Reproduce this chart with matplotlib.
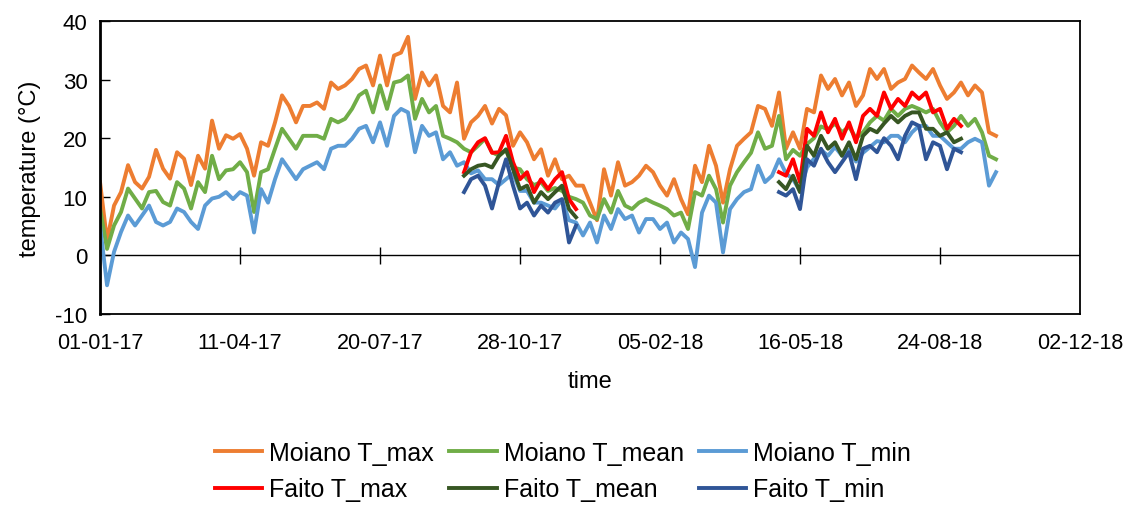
"""Daily temperature at Moiano and Faito, Jan 2017 - Oct 2018."""
import numpy as np
import pandas as pd
import matplotlib
matplotlib.use("Agg")
import matplotlib.pyplot as plt
import matplotlib.dates as mdates

plt.rcParams["font.family"] = ["Liberation Sans", "DejaVu Sans"]
plt.rcParams["font.size"] = 16.5
plt.rcParams["axes.unicode_minus"] = False

# values every 5 days
moiano_dates = pd.date_range("2017-01-01", periods=129, freq="5D")
faito_dates_1 = pd.date_range("2017-09-18", periods=17, freq="5D")
faito_dates_2 = pd.date_range("2018-05-01", periods=27, freq="5D")

moiano_tmax = [
    12.5, 2.5, 8.5, 10.8, 15.4, 12.5, 11.4, 13.4, 18, 14.8,
    13.1, 17.6, 16.5, 12, 17, 14.8, 23, 18.2, 20.5, 19.9,
    20.7, 18.2, 13.6, 19.3, 18.7, 22.7, 27.3, 25.5, 22.7, 25.5,
    25.5, 26.1, 25, 29.5, 28.4, 29, 30.1, 31.8, 32.4, 29,
    34.1, 29, 34.1, 34.6, 37.3, 26.7, 31.2, 29, 30.7, 25.5,
    24.4, 29.5, 19.9, 22.7, 23.8, 25.5, 22.5, 25, 23.9, 18.7,
    21, 19.3, 16.4, 18.1, 13.6, 16.4, 13, 13.6, 11.9, 11.9,
    9, 6, 14.7, 10.2, 15.9, 11.9, 12.5, 13.6, 15.3, 14.2,
    11.9, 10.2, 13, 9.6, 7, 15.3, 12.5, 18.7, 15.3, 9,
    14.7, 18.7, 19.9, 21, 25.5, 25, 22.1, 27.8, 18.2, 21,
    18.2, 25, 24.4, 30.7, 28.4, 30.1, 27.3, 29.5, 25.5, 27.3,
    31.8, 30.1, 31.8, 28.4, 29.5, 30.1, 32.4, 31.2, 30.1, 31.8,
    29, 26.7, 27.8, 29.5, 27.3, 29, 27.8, 21, 20.4,
]
moiano_tmean = [
    8, 1.1, 5.1, 7.4, 11.4, 9.7, 8, 10.8, 11, 9.1,
    8.5, 12.5, 11.4, 8, 12.5, 10.8, 17, 13, 14.5, 14.7,
    15.9, 14.2, 7.4, 14.2, 14.7, 18.2, 21.6, 19.9, 18.2, 20.4,
    20.4, 20.4, 19.9, 23.3, 22.7, 23.3, 25, 27.3, 28.1, 24.4,
    29, 25, 29.5, 29.8, 30.7, 23.3, 26.7, 24.4, 25.5, 20.4,
    19.9, 19.3, 18.2, 17.6, 18.7, 19.9, 17.6, 17, 18, 15,
    14.7, 13, 12, 12.5, 11, 11.5, 11, 10, 9.6, 9,
    6.8, 6.2, 9.6, 7.3, 11, 8.5, 7.9, 9, 9.6, 9,
    8.5, 7.9, 6.8, 7.3, 4.5, 10.8, 10.2, 13.6, 11.3, 5.6,
    11.9, 14.2, 15.9, 17.5, 21, 18.2, 18.7, 23.8, 16.4, 18,
    17, 19, 20, 22, 21.5, 22.5, 21, 22, 20, 21,
    22.7, 23.8, 23, 25, 23.8, 25, 25.5, 25, 24.4, 25,
    22.7, 21, 22.1, 23.8, 22.1, 23.3, 21, 17, 16.4,
]
moiano_tmin = [
    5.1, -5.1, 0.6, 4, 6.8, 5.1, 6.8, 8.5, 5.7, 5.1,
    5.7, 8, 7.4, 5.7, 4.5, 8.5, 9.7, 10, 10.8, 9.6,
    10.8, 10.2, 3.9, 11.3, 9, 13, 16.4, 14.7, 13, 14.7,
    15.3, 15.9, 14.7, 18.2, 18.7, 18.7, 19.9, 21.6, 22.1, 19.3,
    22.7, 18.7, 23.8, 25, 24.4, 17.6, 22.1, 20.4, 21, 16.4,
    17.6, 15.3, 15.9, 14, 14.5, 13, 13, 12, 13, 14,
    11, 11, 9, 9, 8.5, 8, 9.5, 6, 5.6, 3.4,
    5.6, 2.2, 6.8, 4.5, 7.9, 6.2, 6.8, 3.9, 6.2, 6.2,
    4.5, 5.6, 2.2, 3.9, 2.8, -2, 7.3, 10.2, 9, 0.5,
    7.9, 9.6, 10.8, 11.3, 15.3, 12.5, 13.6, 16.4, 14, 13,
    11, 15, 16.5, 18, 17, 18.5, 17, 18, 16, 17.5,
    18.5, 19.5, 19.3, 20.4, 20.4, 19.3, 21, 22.1, 22.1, 20.4,
    20.4, 19.3, 18.2, 18.2, 19.3, 19.9, 19.3, 11.9, 14.2,
]

faito_tmax_1 = [14.2, 17.6, 19.3, 20, 17.5, 17.6, 20.4, 15.9, 13, 14.2,
                10.8, 13, 11.3, 13, 14.2, 9.6, 7.9]
faito_tmean_1 = [13.6, 14.7, 15.3, 15.5, 15, 17, 18.1, 14.7, 11.3, 11.9,
                 9, 10.8, 9.6, 10.8, 11.9, 7.9, 6.5]
faito_tmin_1 = [10.8, 13, 13.6, 11.9, 8, 12.5, 16.4, 11.9, 8, 9,
                6.8, 8.5, 7.3, 9, 9.6, 2.2, 5.1]

faito_tmax_2 = [14.2, 13.6, 16.4, 12.5, 21.6, 20.4, 24.4, 21, 23.3, 19.9,
                22.7, 19.3, 23.8, 25, 23.8, 27.8, 25, 26.7, 25.5, 27.8,
                26.7, 27.8, 24.4, 25, 21.6, 23.3, 22.1]
faito_tmean_2 = [12.5, 11.3, 13.6, 10.8, 18.7, 17, 20.4, 18.2, 19.3, 17,
                 19.3, 16.4, 20.4, 21.6, 21, 22.5, 23.8, 22.7, 23.8, 24.4,
                 24.4, 21.6, 21.6, 20.4, 21, 19.3, 19.9]
faito_tmin_2 = [10.8, 10.2, 11.3, 7.9, 16.4, 15.3, 18.2, 15.9, 14.2, 15.9,
                17.6, 13, 18.2, 18.7, 17.6, 20, 18.7, 16.4, 20.4, 22.7,
                22.1, 16.4, 19.3, 18.7, 14.7, 18.2, 17.6]

COL = {
    "m_max": "#ED7D31", "m_mean": "#70AD47", "m_min": "#5B9BD5",
    "f_max": "#FF0000", "f_mean": "#375623", "f_min": "#2F5597",
}
LW = 2.8

fig = plt.figure(figsize=(11.42, 5.10), dpi=100)
ax = fig.add_axes([0.0876, 0.3824, 0.8581, 0.5745])

h = {}
h["m_max"], = ax.plot(moiano_dates, moiano_tmax, color=COL["m_max"], lw=LW,
                      label="Moiano T_max")
h["m_mean"], = ax.plot(moiano_dates, moiano_tmean, color=COL["m_mean"], lw=LW,
                       label="Moiano T_mean")
h["m_min"], = ax.plot(moiano_dates, moiano_tmin, color=COL["m_min"], lw=LW,
                      label="Moiano T_min")

for key, lab, seg1, seg2 in [
    ("f_max", "Faito T_max", faito_tmax_1, faito_tmax_2),
    ("f_mean", "Faito T_mean", faito_tmean_1, faito_tmean_2),
    ("f_min", "Faito T_min", faito_tmin_1, faito_tmin_2),
]:
    h[key], = ax.plot(faito_dates_1, seg1, color=COL[key], lw=LW, label=lab)
    ax.plot(faito_dates_2, seg2, color=COL[key], lw=LW)

x0 = pd.Timestamp("2017-01-01")
x1 = pd.Timestamp("2018-12-02")
ax.set_xlim(x0, x1)
ax.set_ylim(-10, 40)
ax.set_yticks(np.arange(-10, 41, 10))

xticks = pd.date_range(x0, x1, freq="100D")
ax.set_xticks(xticks)
ax.xaxis.set_major_formatter(mdates.DateFormatter("%d-%m-%y"))
ax.tick_params(axis="x", length=0, pad=13, labelsize=15.5)
ax.tick_params(axis="y", direction="in", length=7, width=1, pad=9,
               labelsize=16)

# horizontal axis line at 0 with crossing tick marks
ax.axhline(0, color="black", lw=1, zorder=1)
ax.vlines(xticks, -1.4, 1.4, color="black", lw=1, zorder=1)

for s in ax.spines.values():
    s.set_linewidth(1.3)
ax.spines["left"].set_linewidth(2)

ax.set_xlabel("time", labelpad=12, fontsize=17)
ax.set_ylabel("temperature (°C)", labelpad=10, fontsize=17)

order = ["m_max", "f_max", "m_mean", "f_mean", "m_min", "f_min"]
fig.legend([h[k] for k in order], [h[k].get_label() for k in order],
           ncol=3, loc="center", bbox_to_anchor=(0.493, 0.0745),
           frameon=False, fontsize=18, handlelength=1.9, handletextpad=0.28,
           columnspacing=0.6, labelspacing=0.5)

fig.savefig("out.png", dpi=100)
